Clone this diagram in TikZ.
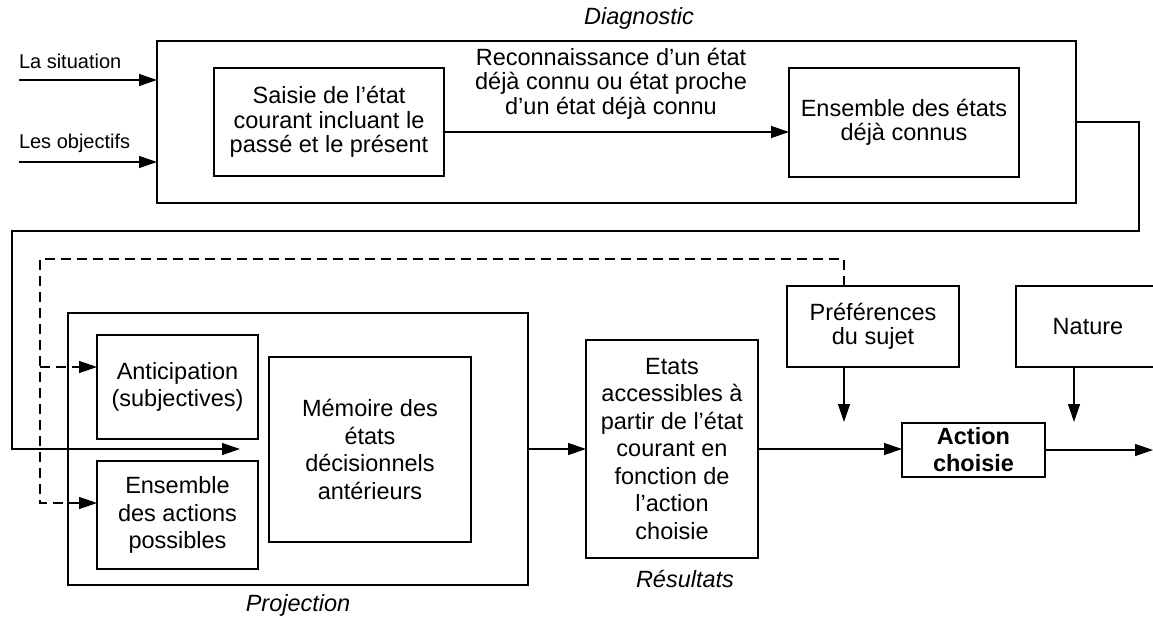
\documentclass[tikz,border=0pt]{standalone}
\usepackage{fontspec}
\setmainfont{Liberation Sans}
\usetikzlibrary{arrows.meta}
\begin{document}
\begin{tikzpicture}[x=1pt,y=-1pt,
  every node/.style={inner sep=0pt, outer sep=0pt},
  box/.style={draw, line width=1.3pt, align=center, font=\fontsize{23.5}{24.5}\selectfont},
  lbox/.style={box, font=\fontsize{23.5}{27.5}\selectfont},
  tip/.style={-{Triangle[length=18pt,width=12pt]}},
  conn/.style={line width=1.3pt, tip},
  plain/.style={line width=1.3pt},
  dsh/.style={line width=1.3pt, dash pattern=on 10pt off 6pt},
  captxt/.style={font=\fontsize{23.5}{24.5}\selectfont\itshape},
  side/.style={font=\fontsize{20}{22}\selectfont, anchor=west},
  lbl/.style={align=center, font=\fontsize{23.5}{24.5}\selectfont},
]
\clip (0,0) rectangle (1153,616);
\fill[white] (0,0) rectangle (1153,616);

% Diagnostic block
\node[box, minimum width=919pt, minimum height=162pt] (diag) at (616.5,122) {};
\node[captxt] (diaglab) at (639,18) {Diagnostic};
\node[box, minimum width=230pt, minimum height=108pt] (saisie) at (329,122)
  {Saisie de l’état\\courant incluant le\\passé et le présent};
\node[box, minimum width=230pt, minimum height=109pt] (ens) at (904,122.5)
  {Ensemble des états\\déjà connus};
\node[lbl] (rec) at (611,83.5) {Reconnaissance d’un état\\déjà connu ou état proche\\d’un état déjà connu};

% inputs
\node[side] (lsit) at (19,61) {La situation};
\node[side] (lobj) at (19,143) {Les objectifs};
\coordinate (in1) at (19,80);
\coordinate (in2) at (19,162);
\draw[conn] (in1) -- (in1 -| diag.west);
\draw[conn] (in2) -- (in2 -| diag.west);
\draw[conn] ([yshift=-10pt]saisie.east) -- ([yshift=-10pt]saisie.east -| ens.west);

% Projection block
\node[box, minimum width=460pt, minimum height=272pt] (proj) at (298,449) {};
\node[captxt] (projlab) at (298,605) {Projection};
\node[lbox, minimum width=161pt, minimum height=104pt] (antic) at (177.5,387)
  {Anticipation\\(subjectives)};
\node[lbox, minimum width=161pt, minimum height=108pt] (actions) at (177.5,515)
  {Ensemble\\des actions\\possibles};
\node[lbox, minimum width=202pt, minimum height=185pt] (memoire) at (370,449.5)
  {Mémoire des\\états\\décisionnels\\antérieurs};

% Results
\node[lbox, minimum width=172pt, minimum height=218pt] (etats) at (672,449)
  {Etats\\accessibles à\\partir de l’état\\courant en\\fonction de\\l’action\\choisie};
\node[captxt] (reslab) at (685,579) {Résultats};

\node[box, minimum width=172pt, minimum height=81pt] (pref) at (873,326.5)
  {Préférences\\du sujet};
\node[box, minimum width=144pt, minimum height=81pt] (nature) at (1088,326.5)
  {Nature};
\node[lbox, minimum width=143pt, minimum height=54pt, font=\fontsize{23.5}{27}\selectfont\bfseries] (action) at (973.5,450)
  {Action\\choisie};

% diagnostic -> projection
\coordinate (t1) at (1139,231);
\coordinate (t2) at (12,231);
\coordinate (m1) at (240,449);
\draw[conn] (diag.east) -| (t1) -- (t2) |- (m1);

% dashed feedback
\coordinate (d1) at (40,259);
\coordinate (d2) at (40,503);
\coordinate (ptop) at ([xshift=-29pt]pref.north);
\coordinate (aw) at ([yshift=20pt]antic.west);
\draw[dsh, tip] (ptop) |- (d1) -- (d2) -- (d2 -| actions.west);
\draw[dsh, tip] (aw -| d1) -- (aw);

% main flow
\draw[conn] (proj.east) -- (etats.west);
\draw[conn] (etats.east) -- (etats.east -| action.west);
\coordinate (out) at (1153,450);
\draw[conn] (action.east) -- (out);
\coordinate (p2) at (844,422);
\coordinate (n2) at (1074,422);
\draw[conn] (pref.south -| p2) -- (p2);
\draw[conn] (nature.south -| n2) -- (n2);
\end{tikzpicture}
\end{document}
